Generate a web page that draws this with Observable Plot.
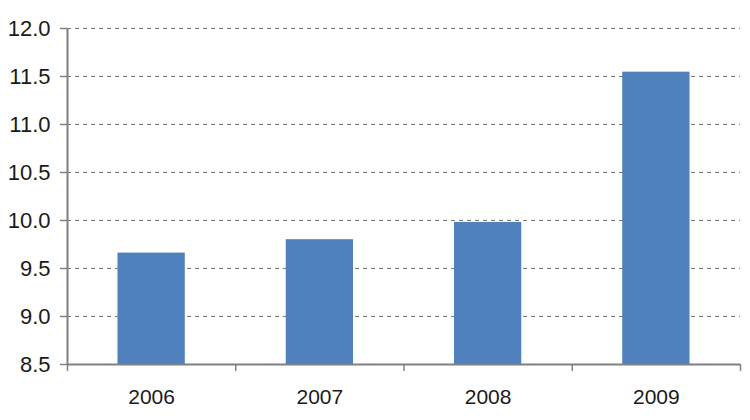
<!DOCTYPE html>
<html>
<head>
<meta charset="utf-8">
<script src="https://cdn.jsdelivr.net/npm/d3@7"></script>
<script src="https://cdn.jsdelivr.net/npm/@observablehq/plot@0.6"></script>
<style>
  html, body { margin: 0; padding: 0; background: #fff; }
  #chart svg { display: block; }
</style>
</head>
<body>
<div id="chart"></div>
<script>
const years = ["2006", "2007", "2008", "2009"];
const values = [9.66, 9.80, 9.98, 11.545];
const yTicks = [8.5, 9.0, 9.5, 10.0, 10.5, 11.0, 11.5, 12.0];

const data = years.map((year, i) => ({year, i, value: values[i]}));
const gap = 0.3; // Excel gap width 150% -> bar occupies 40% of category

const chart = Plot.plot({
  width: 750,
  height: 420,
  marginLeft: 67,
  marginRight: 10,
  marginTop: 28,
  marginBottom: 56,
  style: {fontFamily: "'Liberation Sans', Arial, sans-serif", fontSize: "22px", color: "#1a1a1a", background: "#fff"},
  x: {domain: [0, years.length]},
  y: {domain: [8.5, 12.0]},
  marks: [
    Plot.ruleY(yTicks.filter(d => d > 8.5), {stroke: "#7a7a7a", strokeWidth: 1.2, strokeDasharray: "4,4", strokeOpacity: 1}),
    Plot.rectY(data, {x1: d => d.i + gap, x2: d => d.i + 1 - gap, y1: 8.5, y2: "value", fill: "#4f81bd"}),
    Plot.axisY({ticks: yTicks, tickFormat: d3.format(".1f"), tickSize: 7, tickPadding: 10, stroke: "#808080", strokeWidth: 1.5, fontSize: 22, label: null}),
    Plot.ruleX([0], {stroke: "#808080", strokeWidth: 2}),
    Plot.ruleY([8.5], {stroke: "#808080", strokeWidth: 2}),
    Plot.axisX({ticks: d3.range(years.length + 1), tickFormat: () => "", tickSize: 7, stroke: "#808080", strokeWidth: 1.5, label: null}),
    Plot.axisX({ticks: years.map((d, i) => i + 0.5), tickFormat: v => years[Math.floor(v)], tickSize: 0, tickPadding: 25, fontSize: 21, label: null})
  ]
});
document.getElementById("chart").append(chart);
</script>
</body>
</html>
